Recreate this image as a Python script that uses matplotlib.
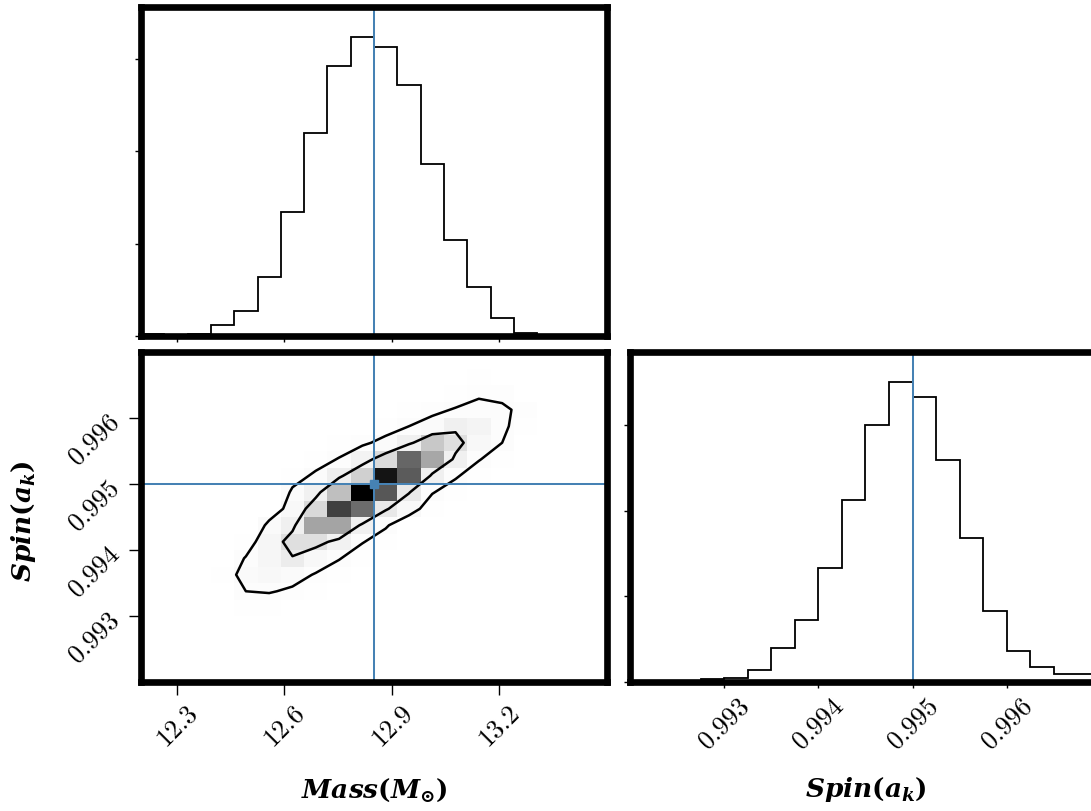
import numpy as np
import matplotlib
matplotlib.use("Agg")
import matplotlib.pyplot as plt
from matplotlib.colors import ListedColormap

# ===============================
# Data
# ===============================
mass_range = (12.2, 13.5)
spin_range = (0.992, 0.997)
n_bins = 20
mass_truth = 12.85
spin_truth = 0.995

# 1D histogram counts, 20 bins each
mass_counts = [18, 11, 25, 116, 272, 634, 1341, 2199, 2924, 3236,
               3127, 2717, 1859, 1043, 525, 199, 36, 11, 4, 11]
spin_counts = [0, 0, 16, 31, 43, 145, 392, 725, 1325, 2129,
               3000, 3502, 3325, 2588, 1686, 831, 365, 176, 90, 98]

mass_ticks = [12.3, 12.6, 12.9, 13.2]
spin_ticks = [0.993, 0.994, 0.995, 0.996]
count_ticks = [0, 1000, 2000, 3000]

# relative 2D density (peak = 1)
# rows: spin bins 18 down to 4, columns: mass bins 3 to 17
density_row_top = 18
density_col_left = 3
density = [
    [0,    0,    0,    0,    0,    0,    0,    0,    0,    0,    0,    0.13, 0.10, 0,    0],
    [0,    0,    0,    0,    0,    0,    0,    0,    0,    0.12, 0.15, 0.21, 0.19, 0.12, 0],
    [0,    0,    0,    0,    0,    0,    0,    0.10, 0.14, 0.19, 0.23, 0.24, 0.24, 0.19, 0.10],
    [0,    0,    0,    0,    0,    0,    0.12, 0.15, 0.22, 0.27, 0.39, 0.35, 0.24, 0.17, 0],
    [0,    0,    0,    0,    0,    0.13, 0.19, 0.27, 0.39, 0.60, 0.50, 0.30, 0.22, 0,    0],
    [0,    0,    0,    0,    0.15, 0.23, 0.36, 0.52, 0.84, 0.70, 0.39, 0.23, 0.13, 0,    0],
    [0,    0,    0,    0.15, 0.25, 0.40, 0.57, 0.97, 0.86, 0.39, 0.24, 0.13, 0,    0,    0],
    [0,    0,    0,    0.25, 0.38, 0.63, 1.00, 0.87, 0.44, 0.23, 0.14, 0,    0,    0,    0],
    [0,    0,    0.10, 0.30, 0.53, 0.91, 0.83, 0.45, 0.30, 0.13, 0,    0,    0,    0,    0],
    [0,    0,    0.27, 0.39, 0.71, 0.71, 0.39, 0.24, 0.10, 0,    0,    0,    0,    0,    0],
    [0,    0.14, 0.33, 0.50, 0.50, 0.37, 0.23, 0.14, 0.06, 0,    0,    0,    0,    0,    0],
    [0.10, 0.23, 0.33, 0.42, 0.30, 0.23, 0.13, 0,    0,    0,    0,    0,    0,    0,    0],
    [0.15, 0.27, 0.30, 0.27, 0.21, 0.13, 0,    0,    0,    0,    0,    0,    0,    0,    0],
    [0.10, 0.22, 0.23, 0.20, 0.13, 0,    0,    0,    0,    0,    0,    0,    0,    0,    0],
    [0,    0.14, 0.14, 0.12, 0,    0,    0,    0,    0,    0,    0,    0,    0,    0,    0],
]
contour_levels = [0.22, 0.43]

# ===============================
# Style
# ===============================
plt.rcParams["mathtext.fontset"] = "custom"
plt.rcParams["mathtext.it"] = "DejaVu Serif:italic:bold"
plt.rcParams["mathtext.rm"] = "DejaVu Serif:bold"
plt.rcParams["mathtext.bf"] = "DejaVu Serif:bold"

truth_color = "#4682b4"
truth_lw = 1.45
spine_w = 4.8
tick_fs = 19
label_fs = 19

# white -> black, darkening like corner's density shading
gray = 1.0 - np.linspace(0, 1, 256) ** 3
density_cmap = ListedColormap(np.column_stack([gray, gray, gray]))

mass_edges = np.linspace(*mass_range, n_bins + 1)
spin_edges = np.linspace(*spin_range, n_bins + 1)
mass_mid = 0.5 * (mass_edges[1:] + mass_edges[:-1])
spin_mid = 0.5 * (spin_edges[1:] + spin_edges[:-1])

H = np.zeros((n_bins, n_bins))
for k, row in enumerate(density):
    j = density_row_top - k
    H[j, density_col_left:density_col_left + len(row)] = row

W, Hpx = 1091, 812
fig = plt.figure(figsize=(W / 100, Hpx / 100), dpi=100)
fig.patch.set_facecolor("white")

def px_axes(x0, y0, x1, y1):
    return fig.add_axes([x0 / W, 1 - y1 / Hpx, (x1 - x0) / W, (y1 - y0) / Hpx])

ax_top = px_axes(141, 8, 607, 337)
ax_2d = px_axes(141, 353, 607, 683)
ax_rt = px_axes(630, 353, 1101, 683)   # runs past the right edge, as in the original

# ---- top: mass histogram ----
ax_top.stairs(mass_counts, mass_edges, color="k", lw=1.3)
ax_top.axvline(mass_truth, color=truth_color, lw=truth_lw)
ax_top.set_xlim(*mass_range)
ax_top.set_ylim(0, 1.1 * max(mass_counts))
ax_top.set_xticks(mass_ticks)
ax_top.set_yticks(count_ticks)
ax_top.tick_params(labelbottom=False, labelleft=False, length=4, width=1)

# ---- 2D panel ----
ax_2d.pcolormesh(mass_edges, spin_edges, H, cmap=density_cmap, vmin=0, vmax=1)
ax_2d.contour(mass_mid, spin_mid, H, levels=contour_levels, colors="k", linewidths=1.8)
ax_2d.axvline(mass_truth, color=truth_color, lw=truth_lw)
ax_2d.axhline(spin_truth, color=truth_color, lw=truth_lw)
ax_2d.plot(mass_truth, spin_truth, "s", color=truth_color, ms=6)
ax_2d.set_xlim(*mass_range)
ax_2d.set_ylim(*spin_range)
ax_2d.set_xticks(mass_ticks, labels=[f"{t:g}" for t in mass_ticks],
                 rotation=45, fontfamily="cmr10", fontsize=tick_fs)
ax_2d.set_yticks(spin_ticks, labels=[f"{t:g}" for t in spin_ticks],
                 rotation=45, fontfamily="cmr10", fontsize=tick_fs)
ax_2d.tick_params(length=9, width=1)

# ---- right: spin histogram ----
ax_rt.stairs(spin_counts, spin_edges, color="k", lw=1.3)
ax_rt.axvline(spin_truth, color=truth_color, lw=truth_lw)
ax_rt.set_xlim(*spin_range)
ax_rt.set_ylim(0, 1.1 * max(spin_counts))
ax_rt.set_xticks(spin_ticks, labels=[f"{t:g}" for t in spin_ticks],
                 rotation=45, fontfamily="cmr10", fontsize=tick_fs)
ax_rt.set_yticks(count_ticks)
ax_rt.tick_params(labelleft=False, length=4, width=1)

for ax in (ax_top, ax_2d, ax_rt):
    for s in ax.spines.values():
        s.set_linewidth(spine_w)
        s.set_color("black")

# axis labels
fig.text(374 / W, 1 - 790 / Hpx, r"$Mass(M_{\odot})$", ha="center", va="center", fontsize=label_fs)
fig.text(866 / W, 1 - 790 / Hpx, r"$Spin(a_k)$", ha="center", va="center", fontsize=label_fs)
fig.text(24 / W, 1 - 521 / Hpx, r"$Spin(a_k)$", ha="center", va="center",
         rotation=90, fontsize=label_fs)

plt.savefig("out.png", dpi=100)
plt.close()
